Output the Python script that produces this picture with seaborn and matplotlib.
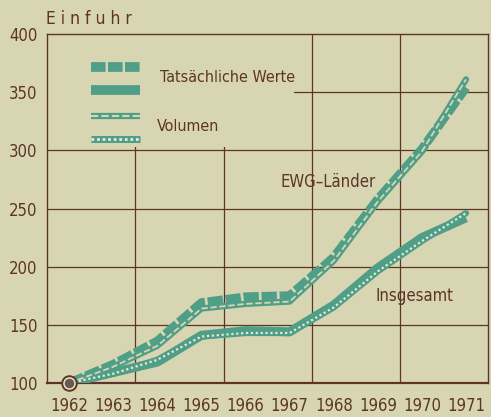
import matplotlib
matplotlib.use("Agg")
import matplotlib.pyplot as plt
from matplotlib.patches import Rectangle
from matplotlib.lines import Line2D
import seaborn as sns
import pandas as pd

# Jahre und Indexwerte (1962 = 100)
years = [1962, 1963, 1964, 1965, 1966, 1967, 1968, 1969, 1970, 1971]
ewg_werte = [100, 116, 136, 169, 174, 175, 208, 258, 301, 354]
ewg_volumen = [100, 114, 132, 164, 168, 170, 205, 256, 299, 361]
ges_werte = [100, 109, 118, 141, 145, 144, 167, 199, 225, 242]
ges_volumen = [100, 108, 120, 140, 143, 143, 165, 196, 222, 246]
y_ticks = [100, 150, 200, 250, 300, 350, 400]

BG = "#d8d6b2"
TEAL = "#4f9e88"
BROWN = "#5e3426"
LIGHT = "#e9e8d2"

sns.set_theme(style="white")
plt.rcParams['font.family'] = ['DejaVu Sans', 'Liberation Sans']
plt.rcParams['font.stretch'] = 'condensed'

df = pd.DataFrame({
    "Jahr": years,
    "ewg_w": ewg_werte, "ewg_v": ewg_volumen,
    "ges_w": ges_werte, "ges_v": ges_volumen,
})

fig = plt.figure(figsize=(4.91, 4.17), dpi=100)
fig.patch.set_facecolor(BG)
ax = fig.add_axes([0.096, 0.0815, 0.898, 0.837])
ax.set_facecolor(BG)

ax.set_xlim(1961.5, 1971.5)
ax.set_ylim(100, 400)

# Gitter
for v in y_ticks[1:-1]:
    ax.axhline(v, color=BROWN, lw=0.9, zorder=1)
for v in [1963.5, 1965.5, 1967.5, 1969.5]:
    ax.axvline(v, color=BROWN, lw=0.9, zorder=1)

# Legendenfeld verdeckt das Gitter
ax.add_patch(Rectangle((0, 0.675), 0.56, 0.33, transform=ax.transAxes,
                       facecolor=BG, edgecolor="none", zorder=2))

# Linien
sns.lineplot(data=df, x="Jahr", y="ges_w", ax=ax, color=TEAL, lw=6.5,
             solid_capstyle="butt", zorder=3)
sns.lineplot(data=df, x="Jahr", y="ges_v", ax=ax, color=TEAL, lw=4.5, zorder=4)
sns.lineplot(data=df, x="Jahr", y="ges_v", ax=ax, color=LIGHT, lw=1.6, zorder=5)
ax.lines[-1].set_dashes((1, 1.2))

sns.lineplot(data=df, x="Jahr", y="ewg_w", ax=ax, color=TEAL, lw=6.5, zorder=3)
ax.lines[-1].set_dashes((1.7, 0.3))
ax.lines[-1].set_dash_capstyle("butt")
sns.lineplot(data=df, x="Jahr", y="ewg_v", ax=ax, color=TEAL, lw=4.5, zorder=4)
sns.lineplot(data=df, x="Jahr", y="ewg_v", ax=ax, color=BG, lw=1.3, zorder=5)
ax.lines[-1].set_dashes((3.5, 1.5))

# Startpunkt
ax.scatter([years[0]], [ewg_werte[0]], s=110, facecolor=LIGHT, edgecolor=BROWN,
           linewidth=1.4, zorder=7, clip_on=False)
ax.scatter([years[0]], [ewg_werte[0]], s=35, color="#6a5a4e", zorder=8, clip_on=False)

# Achsen
for s in ax.spines.values():
    s.set_color(BROWN)
    s.set_linewidth(1.0)
ax.spines["bottom"].set_linewidth(1.6)
ax.set_xlabel("")
ax.set_ylabel("")
ax.set_xticks(years)
ax.set_xticklabels([str(y) for y in years])
ax.set_xticks([y + 0.5 for y in years[:-1]] + [1961.5], minor=True)
ax.tick_params(axis="x", which="major", length=0, pad=10, labelsize=12, colors=BROWN)
ax.tick_params(axis="x", which="minor", length=24, width=1.0, color=BROWN, direction="out")
ax.set_yticks(y_ticks)
ax.tick_params(axis="y", length=5, width=1.0, color=BROWN, labelsize=12,
               labelcolor=BROWN, pad=2)

# Legende (Schlüssel in Achsenkoordinaten)
kx = [0.10, 0.21]
ax.add_line(Line2D(kx, [0.905, 0.905], transform=ax.transAxes, color=TEAL, lw=7,
                   dashes=(1.5, 0.25), dash_capstyle="butt", zorder=6))
ax.add_line(Line2D(kx, [0.84, 0.84], transform=ax.transAxes, color=TEAL, lw=7,
                   solid_capstyle="butt", zorder=6))
ax.add_line(Line2D(kx, [0.765, 0.765], transform=ax.transAxes, color=TEAL, lw=4.5,
                   solid_capstyle="butt", zorder=6))
ax.add_line(Line2D(kx, [0.765, 0.765], transform=ax.transAxes, color=BG, lw=1.5,
                   dashes=(3.5, 1.5), zorder=7))
ax.add_line(Line2D(kx, [0.70, 0.70], transform=ax.transAxes, color=TEAL, lw=5,
                   solid_capstyle="butt", zorder=6))
ax.add_line(Line2D(kx, [0.70, 0.70], transform=ax.transAxes, color=LIGHT, lw=2,
                   dashes=(1, 1), zorder=7))
ax.text(0.255, 0.875, "Tatsächliche Werte", transform=ax.transAxes, fontsize=11.5,
        color=BROWN, va="center", zorder=8)
ax.text(0.25, 0.735, "Volumen", transform=ax.transAxes, fontsize=11.5,
        color=BROWN, va="center", zorder=8)

# Beschriftungen
ax.text(1966.8, 273, "EWG–Länder", fontsize=12, color=BROWN, va="center", zorder=8)
ax.text(1968.95, 175, "Insgesamt", fontsize=12, color=BROWN, va="center", zorder=8)
fig.text(0.094, 0.955, "E i n f u h r", fontsize=12.5, color=BROWN, va="center")

fig.savefig("out.png", dpi=100, facecolor=BG)
